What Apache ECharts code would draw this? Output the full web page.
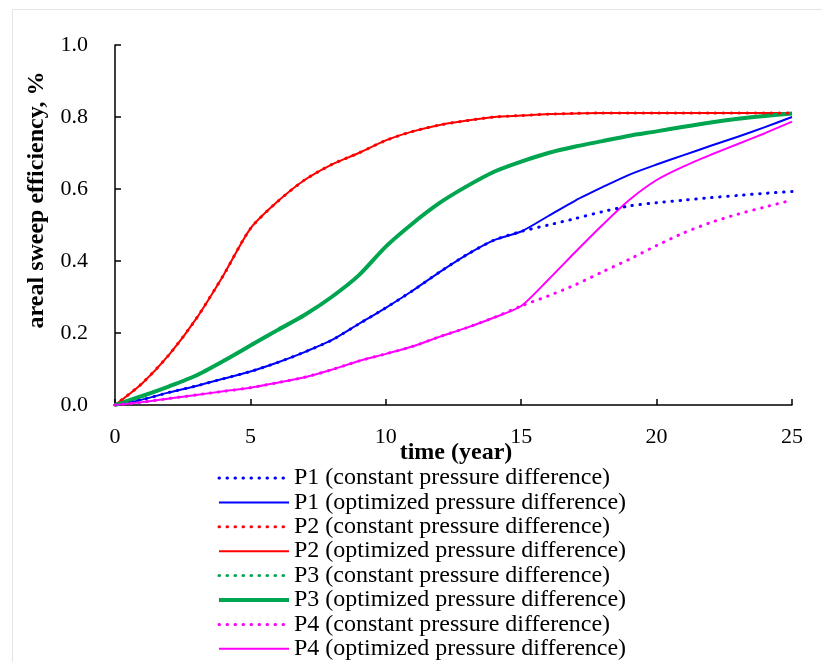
<!DOCTYPE html>
<html>
<head>
<meta charset="utf-8">
<script src="https://cdn.jsdelivr.net/npm/echarts@6/dist/echarts.min.js"></script>
<style>html,body{margin:0;padding:0;background:#fff}#c{width:822px;height:662px}</style>
</head>
<body>
<div id="c"></div>
<script>
const years = [0,1,2,3,4,5,6,7,8,9,10,11,12,13,14,15,16,17,18,19,20,21,22,23,24,25];
const p1Const = [0,0.015,0.035,0.053,0.073,0.093,0.118,0.147,0.18,0.225,0.27,0.318,0.37,0.418,0.458,0.482,0.50,0.518,0.537,0.553,0.562,0.569,0.576,0.582,0.588,0.593];
const p1Opt   = [0,0.015,0.035,0.053,0.073,0.093,0.118,0.147,0.18,0.225,0.27,0.318,0.37,0.418,0.458,0.482,0.525,0.568,0.605,0.64,0.668,0.694,0.72,0.745,0.772,0.80];
const p2Const = [0,0.06,0.14,0.24,0.36,0.49,0.565,0.625,0.668,0.70,0.735,0.76,0.778,0.79,0.80,0.804,0.808,0.81,0.811,0.811,0.811,0.811,0.811,0.811,0.811,0.811];
const p2Opt   = [0,0.06,0.14,0.24,0.36,0.49,0.565,0.625,0.668,0.70,0.735,0.76,0.778,0.79,0.80,0.804,0.808,0.81,0.811,0.811,0.811,0.811,0.811,0.811,0.811,0.811];
const p3Const = [0,0.025,0.052,0.082,0.122,0.165,0.208,0.25,0.30,0.36,0.44,0.505,0.562,0.608,0.648,0.676,0.70,0.718,0.733,0.748,0.76,0.773,0.785,0.795,0.803,0.81];
const p3Opt   = [0,0.025,0.052,0.082,0.122,0.165,0.208,0.25,0.30,0.36,0.44,0.505,0.562,0.608,0.648,0.676,0.70,0.718,0.733,0.748,0.76,0.773,0.785,0.795,0.803,0.81];
const p4Const = [0,0.008,0.018,0.028,0.038,0.048,0.062,0.077,0.098,0.122,0.142,0.163,0.19,0.215,0.243,0.275,0.303,0.334,0.37,0.405,0.443,0.478,0.507,0.53,0.55,0.569];
const p4Opt   = [0,0.008,0.018,0.028,0.038,0.048,0.062,0.077,0.098,0.122,0.142,0.163,0.19,0.215,0.243,0.275,0.348,0.425,0.50,0.57,0.625,0.663,0.695,0.725,0.755,0.787];
const xTicks = [0,5,10,15,20,25];
const yTicks = ['0.0','0.2','0.4','0.6','0.8','1.0'];
const legendNames = [
  'P1 (constant pressure difference)','P1 (optimized pressure difference)',
  'P2 (constant pressure difference)','P2 (optimized pressure difference)',
  'P3 (constant pressure difference)','P3 (optimized pressure difference)',
  'P4 (constant pressure difference)','P4 (optimized pressure difference)'];

const FONT = '"Liberation Serif", "Times New Roman", serif';
const BLUE = '#0000ff', RED = '#ff0000', GREEN = '#00a550', MAG = '#ff00ff';
const DOT = [0.5,7.5];

function pairs(vals){ return years.map((t,i)=>[t, vals[i]]); }
function dotted(name, vals, color){
  return {name, type:'line', data:pairs(vals), showSymbol:false, symbol:'none', smooth:0.25, z:3,
    lineStyle:{color, width:3, type:DOT, cap:'round'}, itemStyle:{color}};
}
function solid(name, vals, color, w){
  return {name, type:'line', data:pairs(vals), showSymbol:false, symbol:'none', smooth:0.25, z:2,
    lineStyle:{color, width:w, type:'solid'}, itemStyle:{color}};
}
const lineWidths = [3,2,3,2,3,4,3,2];
const legendData = legendNames.map((n,i)=>({name:n,
  lineStyle: i%2===0 ? {width:lineWidths[i], type:DOT, cap:'round'} : {width:lineWidths[i], type:'solid'}}));

const chart = echarts.init(document.getElementById('c'), null, {renderer:'canvas'});
chart.setOption({
  animation:false,
  backgroundColor:'#fff',
  grid:{left:115, right:30, top:45, bottom:257, containLabel:false},
  xAxis:{type:'value', min:0, max:25, interval:5,
    axisLine:{lineStyle:{color:'#000', width:1.5}},
    axisTick:{inside:true, length:6, lineStyle:{color:'#000', width:1.5}},
    splitLine:{show:false},
    axisLabel:{color:'#000', fontSize:22, fontFamily:FONT, margin:21,
      formatter:v=> xTicks.indexOf(v)>=0 ? String(v) : ''}},
  yAxis:{type:'value', min:0, max:1, interval:0.2,
    axisLine:{show:true, lineStyle:{color:'#000', width:1.5}},
    axisTick:{show:true, inside:true, length:6, lineStyle:{color:'#000', width:1.5}},
    splitLine:{show:false},
    axisLabel:{color:'#000', fontSize:22, fontFamily:FONT, margin:27,
      formatter:v=> yTicks[Math.round(v/0.2)]}},
  legend:{data:legendData, orient:'vertical', left:217, top:466, height:200, padding:0,
    itemWidth:70, itemHeight:14, itemGap:0.4,
    itemStyle:{opacity:0},
    textStyle:{color:'#000', fontSize:24, fontFamily:FONT, padding:[0,0,0,0]}},
  graphic:[
    {type:'line', shape:{x1:12.5, y1:9.5, x2:822, y2:9.5}, style:{stroke:'#e4e4e4', lineWidth:1}, silent:true},
    {type:'line', shape:{x1:12.5, y1:9.5, x2:12.5, y2:662}, style:{stroke:'#e4e4e4', lineWidth:1}, silent:true},
    {type:'text', x:456, y:453, style:{text:'time (year)', font:'bold 24px '+FONT, fill:'#000', textAlign:'center', textVerticalAlign:'middle'}},
    {type:'text', x:37, y:200, rotation:Math.PI/2, style:{text:'areal sweep efficiency, %', font:'bold 24px '+FONT, fill:'#000', textAlign:'center', textVerticalAlign:'middle'}}
  ],
  series:[
    solid(legendNames[1], p1Opt, BLUE, 2),
    solid(legendNames[3], p2Opt, RED, 2),
    solid(legendNames[5], p3Opt, GREEN, 4),
    solid(legendNames[7], p4Opt, MAG, 2),
    dotted(legendNames[0], p1Const, BLUE),
    dotted(legendNames[2], p2Const, RED),
    dotted(legendNames[4], p3Const, GREEN),
    dotted(legendNames[6], p4Const, MAG)
  ]
});
</script>
</body>
</html>
